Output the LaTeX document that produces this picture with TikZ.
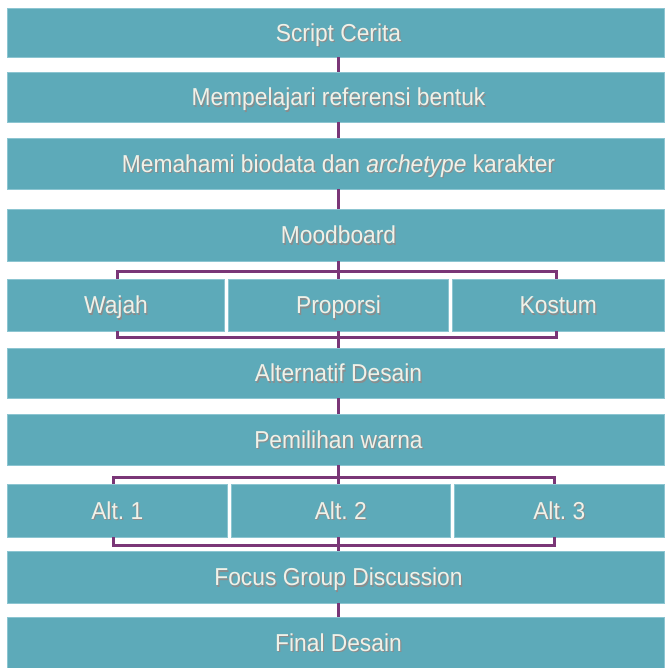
\documentclass[tikz,border=0pt]{standalone}
\usepackage{fontspec}
\setmainfont{Liberation Sans}[FakeStretch=0.93]
\frenchspacing
\definecolor{boxc}{HTML}{5DAAB9}
\definecolor{edgec}{HTML}{8CC5D1}
\definecolor{linec}{HTML}{7A3677}
\definecolor{txtc}{HTML}{F0F1E8}
\newcommand\shad[1]{\rlap{\kern1.2pt\raisebox{-1.4pt}{\textcolor{black!45}{#1}}}#1}
\newcommand\shadc[1]{\shad{\kern6pt#1}}
\begin{document}
\begin{tikzpicture}[x=1pt,y=-1pt,
  box/.style={fill=boxc, draw=edgec, line width=0.6pt, text=txtc,
    font=\fontsize{24.5}{28}\selectfont, inner sep=0pt, anchor=center,
    text height=17.5pt, text depth=0pt},
  conn/.style={draw=linec, line width=3pt}]
\useasboundingbox (0,0) rectangle (664,668);
\fill[white] (0,0) rectangle (664,668);
% single boxes (x from 7 to 664)
\node[box, minimum width=657pt, minimum height=49pt] (b1) at (335.5,32.5) {\shadc{Script Cerita}};
\node[box, minimum width=657pt, minimum height=50pt] (b2) at (335.5,97) {\shadc{Mempelajari referensi bentuk}};
\node[box, minimum width=657pt, minimum height=51pt] (b3) at (335.5,163.5) {\shadc{Memahami biodata dan \textit{archetype} karakter}};
\node[box, minimum width=657pt, minimum height=52pt] (b4) at (335.5,235) {\shadc{Moodboard}};
% row 1
\node[box, minimum width=217pt, minimum height=52pt] (w1) at (116,305) {\shad{Wajah}};
\node[box, minimum width=219.5pt, minimum height=52pt] (w2) at (338.5,305) {\shad{Proporsi}};
\node[box, minimum width=211.5pt, minimum height=52pt] (w3) at (558.25,305) {\shad{Kostum}};
\node[box, minimum width=657pt, minimum height=50pt] (b6) at (335.5,373) {\shadc{Alternatif Desain}};
\node[box, minimum width=657pt, minimum height=51pt] (b7) at (335.5,439.5) {\shadc{Pemilihan warna}};
% row 2
\node[box, minimum width=219.5pt, minimum height=53pt] (a1) at (117.25,510.5) {\shad{Alt. 1}};
\node[box, minimum width=219.5pt, minimum height=53pt] (a2) at (340.75,510.5) {\shad{Alt. 2}};
\node[box, minimum width=209.5pt, minimum height=53pt] (a3) at (559.25,510.5) {\shad{Alt. 3}};
\node[box, minimum width=657pt, minimum height=52pt] (b9) at (335.5,577) {\shadc{Focus Group Discussion}};
\node[box, minimum width=657pt, minimum height=51pt] (b10) at (335.5,642.5) {\shadc{Final Desain}};
% reference coordinates
\coordinate (cx) at (338.5,0);
\coordinate (l1) at (117,271);
\coordinate (r1) at (556,271);
\coordinate (l1b) at (117,337);
\coordinate (r1b) at (556,337);
\coordinate (l2) at (113,477);
\coordinate (r2) at (554,477);
\coordinate (l2b) at (113,545);
\coordinate (r2b) at (554,545);
% connectors
\draw[conn] (b1.south -| cx) -- (b2.north -| cx);
\draw[conn] (b2.south -| cx) -- (b3.north -| cx);
\draw[conn] (b3.south -| cx) -- (b4.north -| cx);
\draw[conn] (b4.south -| cx) -- (w2.north -| cx);
\draw[conn] (w1.north -| l1) -- (l1) -- (r1) -- (w3.north -| r1);
\draw[conn] (w1.south -| l1b) -- (l1b) -- (r1b) -- (w3.south -| r1b);
\draw[conn] (w2.south -| cx) -- (b6.north -| cx);
\draw[conn] (b6.south -| cx) -- (b7.north -| cx);
\draw[conn] (b7.south -| cx) -- (a2.north -| cx);
\draw[conn] (a1.north -| l2) -- (l2) -- (r2) -- (a3.north -| r2);
\draw[conn] (a1.south -| l2b) -- (l2b) -- (r2b) -- (a3.south -| r2b);
\draw[conn] (a2.south -| cx) -- (b9.north -| cx);
\draw[conn] (b9.south -| cx) -- (b10.north -| cx);
\end{tikzpicture}
\end{document}
